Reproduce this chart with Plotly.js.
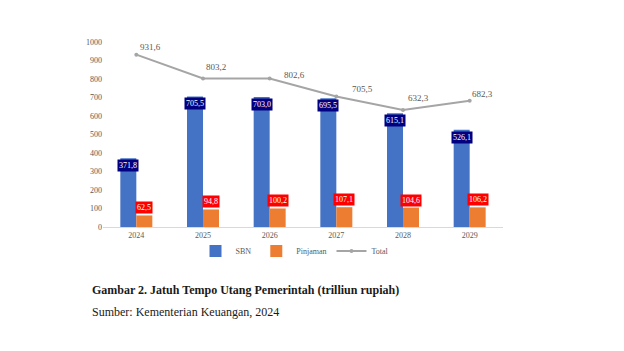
<!DOCTYPE html>
<html>
<head>
<meta charset="utf-8">
<script src="https://cdn.plot.ly/plotly-3.0.1.min.js"></script>
<style>
html,body{margin:0;padding:0;background:#fff;}
#chart{width:624px;height:351px;}
</style>
</head>
<body>
<div id="chart"></div>
<script>
// ---- data ----
var years = ['2024', '2025', '2026', '2027', '2028', '2029'];
var sbn = [371.8, 705.5, 703.0, 695.5, 615.1, 526.1];
var pinjaman = [62.5, 94.8, 100.2, 107.1, 104.6, 106.2];
var total = [931.6, 803.2, 802.6, 705.5, 632.3, 682.3];
var seriesNames = ['SBN', 'Pinjaman', 'Total'];
var captionTitle = 'Gambar 2. Jatuh Tempo Utang Pemerintah (trilliun rupiah)';
var captionSource = 'Sumber: Kementerian Keuangan, 2024';

// ---- styling ----
var serif = 'Liberation Serif, Times New Roman, serif';
var fmt = function (v) { return v.toFixed(1).replace('.', ','); };
// label offsets (pixels) for the Total labels, as placed in the original
var totalLabelShiftX = [14, 13, 25, 26, 15, 13];
var totalLabelShiftY = [8, 11, 4, 7, 12, 7];

var traces = [
  {type: 'bar', name: seriesNames[0], x: years, y: sbn,
   marker: {color: '#4472C4'}, hoverinfo: 'none'},
  {type: 'bar', name: seriesNames[1], x: years, y: pinjaman,
   marker: {color: '#ED7D31'}, hoverinfo: 'none'},
  {type: 'scatter', mode: 'lines+markers', name: seriesNames[2], x: years, y: total,
   line: {color: '#A5A5A5', width: 2}, marker: {color: '#A5A5A5', size: 4}, hoverinfo: 'none'}
];

var annotations = [];
years.forEach(function (yr, i) {
  // on a category axis, annotation x is the category's index
  annotations.push({x: i, y: sbn[i], xref: 'x', yref: 'y', text: fmt(sbn[i]),
    showarrow: false, xanchor: 'center', yanchor: 'top', xshift: -8, yshift: -1,
    bgcolor: '#000080', borderpad: 1,
    font: {family: serif, size: 8, color: '#ffffff'}});
  annotations.push({x: i, y: pinjaman[i], xref: 'x', yref: 'y', text: fmt(pinjaman[i]),
    showarrow: false, xanchor: 'center', yanchor: 'bottom', xshift: 8, yshift: 1,
    bgcolor: '#FF0000', borderpad: 1,
    font: {family: serif, size: 8, color: '#ffffff'}});
  annotations.push({x: i, y: total[i], xref: 'x', yref: 'y', text: fmt(total[i]),
    showarrow: false, xanchor: 'center', yanchor: 'middle',
    xshift: totalLabelShiftX[i], yshift: totalLabelShiftY[i],
    font: {family: serif, size: 9, color: '#595959'}});
});
annotations.push({x: -0.0325, y: -0.342, xref: 'paper', yref: 'paper', text: '<b>' + captionTitle + '</b>',
  showarrow: false, xanchor: 'left', yanchor: 'middle',
  font: {family: serif, size: 12, color: '#1a1a1a'}});
annotations.push({x: -0.0325, y: -0.459, xref: 'paper', yref: 'paper', text: captionSource,
  showarrow: false, xanchor: 'left', yanchor: 'middle',
  font: {family: serif, size: 12, color: '#1a1a1a'}});

var layout = {
  width: 624, height: 351,
  margin: {l: 103, r: 121, t: 42, b: 124},
  paper_bgcolor: '#ffffff', plot_bgcolor: '#ffffff',
  barmode: 'group', bargap: 0.52, bargroupgap: 0,
  showlegend: true,
  legend: {orientation: 'h', x: 0.48, xanchor: 'center', y: -0.13, yanchor: 'middle',
    bgcolor: 'rgba(0,0,0,0)', font: {family: serif, size: 8, color: '#595959'},
    itemwidth: 30, tracegroupgap: 0},
  xaxis: {type: 'category', range: [-0.5, 5.5], showgrid: false, zeroline: false, showline: true,
    linecolor: '#D9D9D9', linewidth: 1, ticks: '',
    tickfont: {family: serif, size: 8, color: '#595959'}, fixedrange: true},
  yaxis: {range: [0, 1000], dtick: 100, showgrid: false, zeroline: false, showline: false,
    ticks: '', tickfont: {family: serif, size: 8, color: '#595959'}, fixedrange: true},
  annotations: annotations
};

Plotly.newPlot('chart', traces, layout, {displayModeBar: false, staticPlot: true});
</script>
</body>
</html>
